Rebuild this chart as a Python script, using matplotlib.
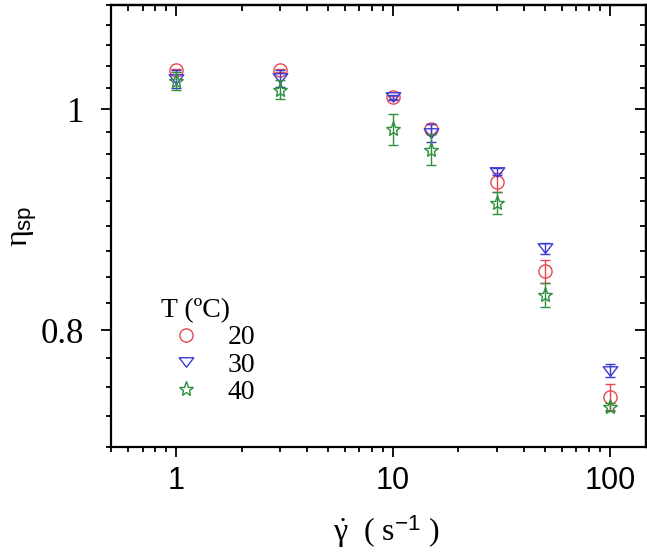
import numpy as np
import matplotlib.pyplot as plt
from matplotlib.lines import Line2D
from matplotlib.path import Path
from matplotlib.ticker import FixedLocator, NullFormatter, LogLocator

plt.rcParams["mathtext.fontset"] = "custom"
plt.rcParams["mathtext.rm"] = "Liberation Serif"
plt.rcParams["mathtext.it"] = "Liberation Serif"
plt.rcParams["mathtext.sf"] = "Liberation Sans"

# shear rate (1/s)
shear_rate = [1, 3, 10, 15, 30, 50, 100]

# specific viscosity at each temperature, with error bars
eta_20 = [1.040, 1.040, 1.012, 0.980, 0.929, 0.849, 0.748]
err_20 = [0.002, 0.002, 0.002, 0.005, 0.009, 0.010, 0.010]
eta_30 = [1.031, 1.032, 1.012, 0.976, 0.939, 0.869, 0.768]
err_30 = [0.009, 0.009, 0.003, 0.009, 0.003, 0.005, 0.005]
eta_40 = [1.029, 1.020, 0.980, 0.960, 0.910, 0.829, 0.740]
err_40 = [0.009, 0.010, 0.015, 0.015, 0.010, 0.010, 0.003]

temps = ["20", "30", "40"]
colors = ["#e8474f", "#3a3ad6", "#2f8f3f"]

# wide, flat down-triangle like the original
tri = Path([(-1, 0.65), (1, 0.65), (0, -0.65), (-1, 0.65)],
           [Path.MOVETO, Path.LINETO, Path.LINETO, Path.CLOSEPOLY])
markers = ["o", tri, "*"]
sizes = [9.5, 10.5, 11]

fig = plt.figure(figsize=(6.47, 5.53), dpi=100)
W, H = 647, 553
ax = fig.add_axes([111 / W, 1 - 446.7 / H, (645.5 - 111) / W, (446.7 - 5) / H])

series = [(eta_20, err_20), (eta_30, err_30), (eta_40, err_40)]
for (vals, errs), c, m, ms in zip(series, colors, markers, sizes):
    ax.errorbar(shear_rate, vals, yerr=errs, fmt="none", ecolor=c,
                elinewidth=1.0, capsize=3.5, capthick=1.0)
    ax.plot(shear_rate, vals, linestyle="none", marker=m, markersize=ms,
            markerfacecolor="none", markeredgecolor=c, markeredgewidth=1.0)

ax.set_xscale("log")
ax.set_yscale("log")
ax.set_xlim(0.5, 146)
ax.set_ylim(0.8 - 4 * 0.2 / 9, 0.8 + 14 * 0.2 / 9)

# y ticks: majors at 0.8 and 1, eight minor ticks between
y_minor = [0.8 + k * 0.2 / 9 for k in range(-4, 15)]
ax.yaxis.set_major_locator(FixedLocator([0.8, 1.0]))
ax.yaxis.set_minor_locator(FixedLocator(y_minor))
ax.yaxis.set_minor_formatter(NullFormatter())
ax.set_yticklabels(["0.8", "1"], family="Liberation Serif", fontsize=25)

x_minor = LogLocator(base=10, subs=np.arange(2, 10) * 1.0, numticks=20)
ax.xaxis.set_major_locator(FixedLocator([1, 10, 100]))
ax.xaxis.set_minor_locator(x_minor)
ax.xaxis.set_minor_formatter(NullFormatter())
ax.set_xticklabels(["1", "10", "100"], family="Liberation Sans", fontsize=22)

for s in ax.spines.values():
    s.set_linewidth(1.6)
ax.tick_params(which="both", direction="out", width=1.3, top=False, right=False)
ax.tick_params(which="major", length=7)
ax.tick_params(which="minor", length=3.6)
ax.tick_params(axis="y", which="major", pad=12)
ax.tick_params(axis="x", which="major", pad=7)

# inward ticks on the top and right spines
ax2 = ax.secondary_yaxis("right")
ax2.yaxis.set_major_locator(FixedLocator([0.8, 1.0]))
ax2.yaxis.set_minor_locator(FixedLocator(y_minor))
ax2.tick_params(which="both", direction="in", width=1.3, labelright=False)
ax2.tick_params(which="major", length=8)
ax2.tick_params(which="minor", length=4.5)
ax2.yaxis.set_major_formatter(NullFormatter())
ax2.yaxis.set_minor_formatter(NullFormatter())
ax3 = ax.secondary_xaxis("top")
ax3.xaxis.set_major_locator(FixedLocator([1, 10, 100]))
ax3.xaxis.set_minor_locator(LogLocator(base=10, subs=np.arange(2, 10) * 1.0, numticks=20))
ax3.tick_params(which="both", direction="in", width=1.3, labeltop=False)
ax3.tick_params(which="major", length=8)
ax3.tick_params(which="minor", length=4.5)
ax3.xaxis.set_major_formatter(NullFormatter())
ax3.xaxis.set_minor_formatter(NullFormatter())
for sa in (ax2, ax3):
    for s in sa.spines.values():
        s.set_linewidth(1.6)

ax.set_xlabel(r"$\dot{\gamma}$  ( s$^{\mathsf{-1}}$ )", fontsize=23,
              family="Liberation Serif")
ax.xaxis.set_label_coords(0.515, -0.15)
ax.set_ylabel(r"$\eta_{\mathsf{sp}}$", fontsize=23)
ax.yaxis.set_label_coords(-0.135, 0.5)

handles = [Line2D([], [], linestyle="none", marker=m, markersize=ms,
                  markerfacecolor="none", markeredgecolor=c, markeredgewidth=1.0)
           for c, m, ms in zip(colors, markers, sizes)]
leg = ax.legend(handles, temps, title="T (ºC)", frameon=False, loc="upper left",
                bbox_to_anchor=((161 - 111) / (645.5 - 111), (446.7 - 298) / (446.7 - 5)),
                prop={"family": "Liberation Serif", "size": 20},
                title_fontproperties={"family": "Liberation Serif", "size": 20},
                alignment="left", handlelength=1.8, handletextpad=0.6,
                labelspacing=0.07, borderpad=0, borderaxespad=0)

fig.savefig("out.png", dpi=100)
